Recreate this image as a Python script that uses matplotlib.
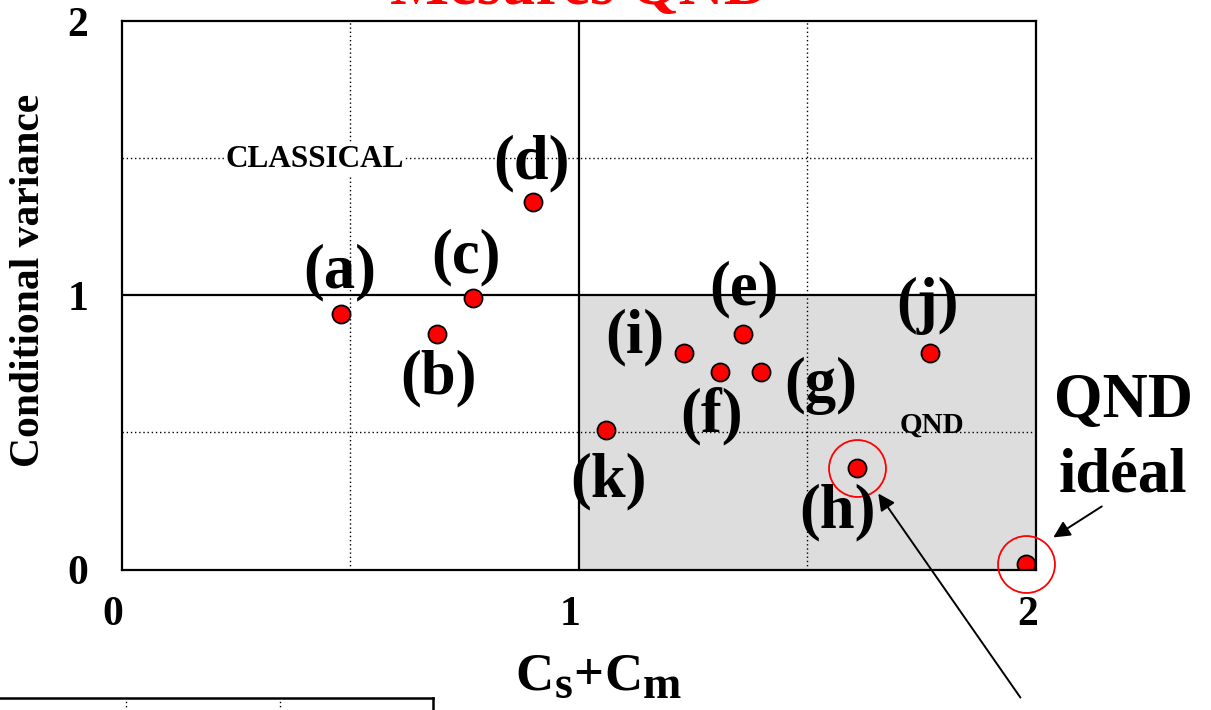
import matplotlib
matplotlib.use("Agg")
import matplotlib.pyplot as plt
from matplotlib.patches import Rectangle
from matplotlib.transforms import ScaledTranslation

plt.rcParams["font.family"] = ["Liberation Serif", "DejaVu Serif"]
plt.rcParams["font.weight"] = "bold"

# Measurements: C_s + C_m versus conditional variance
labels = ["(a)", "(b)", "(c)", "(d)", "(e)", "(f)", "(g)", "(h)", "(i)", "(j)", "(k)"]
cs_cm = [0.48, 0.69, 0.77, 0.90, 1.36, 1.31, 1.40, 1.61, 1.23, 1.77, 1.06]
cond_var = [0.93, 0.86, 0.99, 1.34, 0.86, 0.72, 0.72, 0.37, 0.79, 0.79, 0.51]
ideal_cs_cm = 1.98
ideal_var = 0.02
x_ticks = [0, 1, 2]
y_ticks = [0, 1, 2]

# label offsets (points) relative to each measurement
label_offsets = [(-1, 30), (1, -32), (-5, 29), (-1, 28), (1, 32), (-6, -32),
                 (43, -10), (-14, -32), (-35, 11), (-2, 34), (2, -37)]

W, H = 1211, 710
fig = plt.figure(figsize=(W / 100, H / 100), dpi=100)
ax = fig.add_axes([121.5 / W, 1 - 569.5 / H, 914 / W, 548.5 / H])
ax.set_xlim(0, 2)
ax.set_ylim(0, 2)

# QND quadrant
ax.add_patch(Rectangle((1, 0), 1, 1, facecolor="#dddddd", edgecolor="none", zorder=0))

dotted = (0, (1, 2))
for v in (0.5, 1.5):
    ax.axvline(v, color="k", lw=1.0, ls=dotted, zorder=1)
    ax.axhline(v, color="k", lw=1.0, ls=dotted, zorder=1)
ax.axvline(1, color="k", lw=1.6, zorder=2)
ax.axhline(1, color="k", lw=1.6, zorder=2)

for sp in ax.spines.values():
    sp.set_linewidth(1.6)
    sp.set_zorder(6)

ax.set_xticks(x_ticks)
ax.set_yticks(y_ticks)
ax.set_xticklabels([str(v) for v in x_ticks])
ax.set_yticklabels([str(v) for v in y_ticks])
ax.tick_params(axis="both", length=0, labelsize=30)
ax.tick_params(axis="x", pad=19)
ax.tick_params(axis="y", pad=24)
shift_left = ScaledTranslation(-6 / 72, 0, fig.dpi_scale_trans)
for lbl in ax.get_xticklabels():
    lbl.set_transform(lbl.get_transform() + shift_left)

ax.text(0.423, 1.468, "CLASSICAL", fontsize=22.5, ha="center", va="baseline",
        bbox=dict(facecolor="white", edgecolor="none", pad=0.5), zorder=3)
ax.text(1.774, 0.498, "QND", fontsize=21, ha="center", va="baseline", zorder=3)

# measurements
ax.plot(cs_cm, cond_var, "o", ms=13, mfc="red", mec="k", mew=1.3, zorder=5)
ax.plot([ideal_cs_cm], [ideal_var], "o", ms=13, mfc="red", mec="k", mew=1.3, zorder=5)

# highlight rings
h_idx = labels.index("(h)")
ax.plot([cs_cm[h_idx], ideal_cs_cm], [cond_var[h_idx], ideal_var], "o", ms=41,
        mfc="none", mec="red", mew=1.3, zorder=7, clip_on=False)

for lab, x, y, off in zip(labels, cs_cm, cond_var, label_offsets):
    ax.annotate(lab, (x, y), xytext=off, textcoords="offset points",
                ha="center", va="center", fontsize=45, zorder=8)

# arrows
arrow = dict(arrowstyle="-|>", color="k", lw=1.4, mutation_scale=25, shrinkA=0, shrinkB=0)
ax.annotate("", xy=(1.656, 0.277), xytext=(1.967, -0.467), arrowprops=arrow,
            annotation_clip=False, zorder=8)
ax.annotate("", xy=(2.039, 0.117), xytext=(2.145, 0.230), arrowprops=arrow,
            annotation_clip=False, zorder=8)

fig.text(1123 / W, 1 - 417 / H, "QND", fontsize=45, ha="center", va="baseline")
fig.text(1123 / W, 1 - 492 / H, "idéal", fontsize=45, ha="center", va="baseline")

# titles
fig.text(579 / W, 1 - 4 / H, "Mesures QND", color="red", fontsize=45,
         ha="center", va="baseline")
fig.text(29 / W, 1 - 280 / H, "Conditional variance", rotation=90, fontsize=30,
         ha="center", va="center")

# x axis label built from runs with large subscripts
renderer = fig.canvas.get_renderer()
runs = [("C", 38, 0), ("s", 33, 9), ("+", 38, 0), ("C", 38, 0), ("m", 33, 9)]
x_run = 515.0
for s, size, dy in runs:
    t = fig.text(x_run / W, 1 - (689 + dy) / H, s, fontsize=size, ha="left", va="baseline")
    x_run += t.get_window_extent(renderer=renderer).width + 1

# lower panel (partially shown)
ax2 = fig.add_axes([-27 / W, -0.2, 460 / W, 0.2 + (710 - 698) / H])
ax2.set_xlim(0, 3)
ax2.set_ylim(0, 1)
ax2.set_xticks([])
ax2.set_yticks([])
for v in (1, 2):
    ax2.axvline(v, color="k", lw=1.0, ls=dotted)
for sp in ax2.spines.values():
    sp.set_linewidth(1.8)

fig.savefig("out.png", dpi=100)
